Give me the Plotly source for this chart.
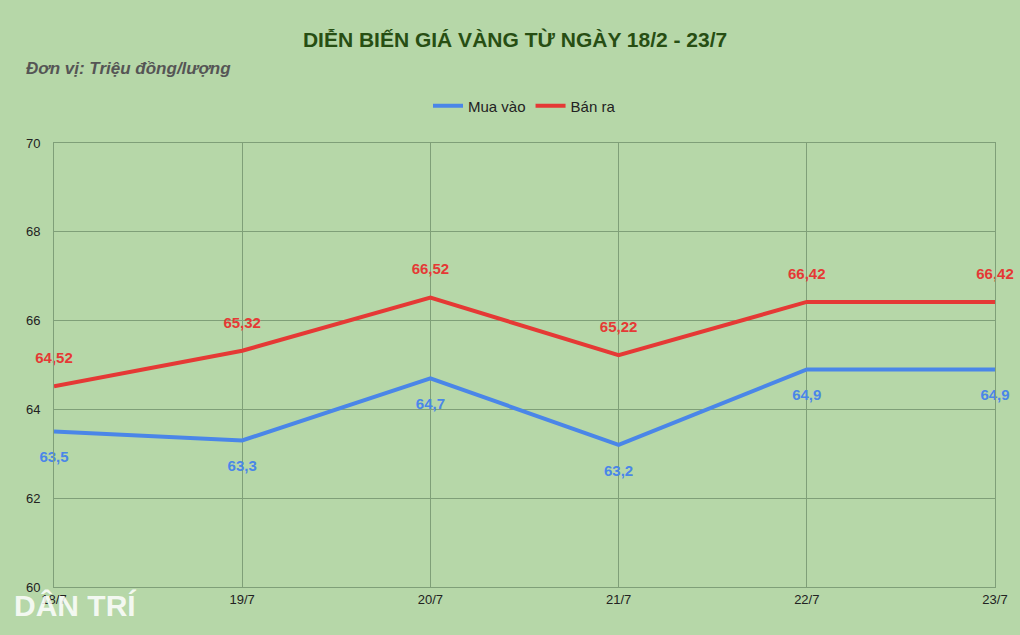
import plotly.graph_objects as go

days = ["18/7", "19/7", "20/7", "21/7", "22/7", "23/7"]
mua_vao = [63.5, 63.3, 64.7, 63.2, 64.9, 64.9]
ban_ra = [64.52, 65.32, 66.52, 65.22, 66.42, 66.42]
mua_labels = ["63,5", "63,3", "64,7", "63,2", "64,9", "64,9"]
ban_labels = ["64,52", "65,32", "66,52", "65,22", "66,42", "66,42"]
y_ticks = [60, 62, 64, 66, 68, 70]

x = list(range(len(days)))
fig = go.Figure()
fig.add_trace(go.Scatter(x=x, y=mua_vao, name="Mua vào", mode="lines+text", cliponaxis=False,
    line=dict(color="#4a86e8", width=4), text=[" <br><b>%s</b>" % t for t in mua_labels],
    textposition="bottom center",
    textfont=dict(color="#4a86e8", size=15, family="Liberation Sans, Arial")))
fig.add_trace(go.Scatter(x=x, y=ban_ra, name="Bán ra", mode="lines+text", cliponaxis=False,
    line=dict(color="#e53935", width=4), text=["<b>%s</b><br> " % t for t in ban_labels],
    textposition="top center",
    textfont=dict(color="#e53935", size=15, family="Liberation Sans, Arial")))

pw, ph = 1020 - 54 - 25, 635 - 143 - 48
def px(xp): return (xp - 54) / pw
def py(yp): return (635 - 48 - yp) / ph

fig.update_layout(
    width=1020, height=635, paper_bgcolor="#b6d7a8", plot_bgcolor="#b6d7a8",
    margin=dict(l=54, r=25, t=143, b=48),
    title=dict(text="<b>DIỄN BIẾN GIÁ VÀNG TỪ NGÀY 18/2 - 23/7</b>", x=0.505, y=0.937,
               xanchor="center", yanchor="middle",
               font=dict(size=21, color="#274e13", family="Liberation Sans, Arial")),
    legend=dict(orientation="h", x=0.5, xanchor="center", y=py(106), yanchor="middle",
                font=dict(size=15, color="#222"), bgcolor="rgba(0,0,0,0)"),
    font=dict(family="Liberation Sans, Arial", color="#222"),
    xaxis=dict(tickvals=x, ticktext=days, range=[0, 5], showgrid=True, gridcolor="#7f9f78",
               showline=True, linecolor="#7f9f78", mirror=True, zeroline=False,
               tickfont=dict(size=13, color="#222")),
    yaxis=dict(range=[60, 70], tickvals=y_ticks, showgrid=True, gridcolor="#7f9f78",
               showline=True, linecolor="#7f9f78", mirror=True, zeroline=False,
               tickfont=dict(size=13, color="#222"), ticklabelstandoff=10),
    annotations=[
        dict(text="<i><b>Đơn vị: Triệu đồng/lượng</b></i>", x=px(24), y=py(69), xref="paper", yref="paper",
             showarrow=False, xanchor="left", yanchor="middle",
             font=dict(size=17, color="#555")),
        dict(text="<b>DÂN TRÍ</b>", x=px(12), y=py(605), xref="paper", yref="paper",
             showarrow=False, xanchor="left", yanchor="middle",
             font=dict(size=30, color="rgba(255,255,255,0.85)", family="Liberation Sans, Arial")),
    ],
)
fig.write_html("out.html", post_script="document.body.style.margin='0';",
               config={"displayModeBar": False})
